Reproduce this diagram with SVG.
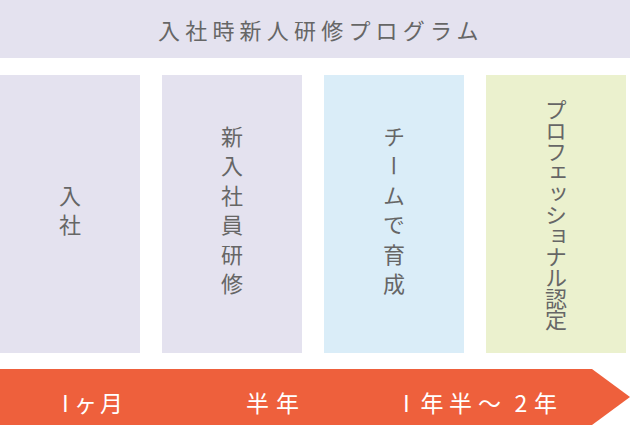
<svg xmlns="http://www.w3.org/2000/svg" width="630" height="428" viewBox="0 0 630 428">
<style>
.t{font-family:"Noto Sans CJK JP","Noto Sans",sans-serif;fill:#666666;font-size:22px}
.v{writing-mode:vertical-rl;text-anchor:middle}
.w{font-family:"Noto Sans CJK JP","Noto Sans",sans-serif;fill:#ffffff;font-size:23px;dominant-baseline:central}
.lav{fill:#e4e2ef}
</style>
<g id="title">
<rect class="lav" x="0" y="0" width="630" height="58"/>
<text class="t" x="158" y="29" dominant-baseline="central" letter-spacing="5.2">入社時新人研修プログラム</text>
</g>
<g id="col1">
<rect class="lav" x="0" y="75" width="140" height="278"/>
<text class="t v" x="70" y="214" letter-spacing="7.5">入社</text>
</g>
<g id="col2">
<rect class="lav" x="162" y="75" width="140" height="278"/>
<text class="t v" x="232" y="214" letter-spacing="7.5">新入社員研修</text>
</g>
<g id="col3">
<rect fill="#daedf8" x="324" y="75" width="140" height="278"/>
<text class="t v" x="394" y="214" letter-spacing="7.5">チームで育成</text>
</g>
<g id="col4">
<rect fill="#ebf1ce" x="486" y="75" width="140" height="278"/>
<text class="t v" x="556" y="214" letter-spacing="-1">プロフェッショナル認定</text>
</g>
<g id="timeline">
<polygon fill="#ee603c" points="0,369 592,369 630,397 592,425 0,425"/>
<text class="w" x="62 74 100" y="402">Iヶ月</text>
<text class="w" x="246 276" y="402">半年</text>
<text class="w" x="403 420.5 449 478 514.5 534" y="402">I年半〜2年</text>
</g>
</svg>
